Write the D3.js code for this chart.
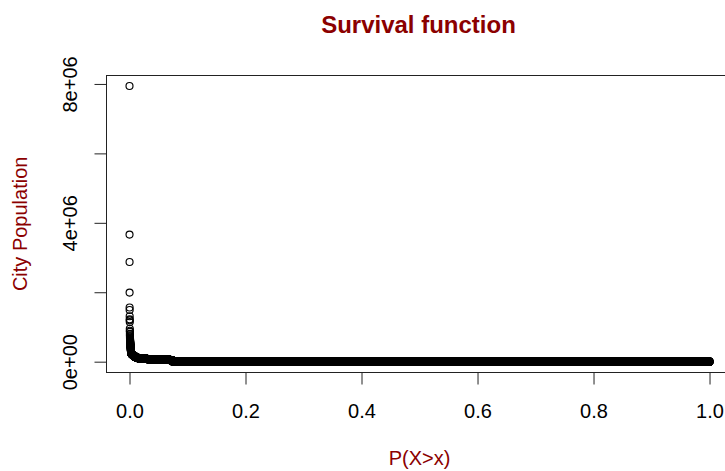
<!DOCTYPE html>
<html>
<head>
<meta charset="utf-8">
<script src="https://cdn.jsdelivr.net/npm/d3@7"></script>
<style>
  html, body { margin: 0; padding: 0; background: #fff; }
  svg { display: block; }
  text { font-family: "Liberation Sans", Arial, sans-serif; }
</style>
</head>
<body>
<script>
// ---- data ----
// Largest cities, population listed individually
const topPop = [7940000, 3660000, 2870000, 1990000, 1560000, 1490000, 1310000, 1220000,
  1190000, 1140000, 950000, 890000, 860000, 800000, 760000, 730000, 700000, 670000, 650000,
  640000, 620000, 600000, 590000, 570000, 560000,
  550000, 540000, 520000, 510000, 500000, 490000, 480000, 470000, 460000, 450000, 440000,
  430000, 420000, 410000, 400000, 390000, 380000, 370000, 360000, 350000, 340000, 330000,
  320000, 310000, 300000, 290000, 280000, 270000, 260000, 255000, 250000];
// Remaining cities, grouped by (approximate) population level and count
const tierPop = [240000, 230000, 220000, 210000, 200000, 190000, 180000, 170000, 160000,
  150000, 140000, 130000, 120000, 110000, 100000, 95000, 90000, 85000, 80000, 75000, 70000,
  65000, 60000, 55000, 50000, 45000,
  9000, 7000, 5500, 4200, 3200, 2400, 1700, 1100, 600, 250];
const tierCount = [8, 10, 10, 12, 12, 14, 14, 16, 16, 18, 20, 22, 26, 30, 40, 50, 50, 70,
  90, 110, 120, 130, 140, 140, 130, 67,
  1200, 1600, 2000, 2200, 2400, 2400, 2300, 2000, 1500, 375];
const xTicks = [0, 0.2, 0.4, 0.6, 0.8, 1.0];
const xTickLabels = ["0.0", "0.2", "0.4", "0.6", "0.8", "1.0"];
const yTicks = [0, 2e6, 4e6, 6e6, 8e6];
const yTickLabels = ["0e+00", "", "4e+06", "", "8e+06"];
const titleText = "Survival function";
const xLabel = "P(X>x)";
const yLabel = "City Population";

// ---- build sorted population list and its survival probabilities ----
const pops = topPop.slice();
tierPop.forEach((p, i) => { for (let k = 0; k < tierCount[i]; k++) pops.push(p); });
pops.sort((a, b) => b - a);
const n = pops.length;
const points = pops.map((p, i) => ({ prob: i / n, pop: p }));

// ---- layout ----
const W = 725, H = 471;
const box = { left: 106.3, right: 732.7, top: 75, bottom: 372.7 };
const darkred = "#8B0000";

const svg = d3.select("body").append("svg").attr("width", W).attr("height", H);

const xExt = d3.extent(points, d => d.prob);
const yExt = d3.extent(points, d => d.pop);
const xPad = (xExt[1] - xExt[0]) * 0.04, yPad = (yExt[1] - yExt[0]) * 0.04;
const x = d3.scaleLinear().domain([xExt[0] - xPad, xExt[1] + xPad]).range([box.left, box.right]);
const y = d3.scaleLinear().domain([yExt[0] - yPad, yExt[1] + yPad]).range([box.bottom, box.top]);

// points
svg.append("g")
  .selectAll("circle")
  .data(points)
  .join("circle")
  .attr("cx", d => x(d.prob))
  .attr("cy", d => y(d.pop))
  .attr("r", 3.5)
  .attr("fill", "none")
  .attr("stroke", "#000")
  .attr("stroke-width", 1.15);

// box
svg.append("rect")
  .attr("x", 106.5).attr("y", 75.5)
  .attr("width", box.right - 106.5).attr("height", 372.5 - 75.5)
  .attr("fill", "none").attr("stroke", "#222").attr("stroke-width", 1);

// x axis
const xAxis = d3.axisBottom(x).tickValues(xTicks).tickSize(12)
  .tickFormat((d, i) => xTickLabels[i]);
const gx = svg.append("g").attr("transform", "translate(0,372.5)").call(xAxis);
gx.select(".domain").remove();
gx.selectAll(".tick line").attr("stroke", "#222");
gx.selectAll(".tick text").attr("font-size", 20).attr("fill", "#000")
  .attr("font-family", "Liberation Sans, Arial, sans-serif")
  .attr("dy", null).attr("y", 45.5);

// y axis
const yAxis = d3.axisLeft(y).tickValues(yTicks).tickSize(12)
  .tickFormat((d, i) => yTickLabels[i]);
const gy = svg.append("g").attr("transform", "translate(106.5,0)").call(yAxis);
gy.select(".domain").remove();
gy.selectAll(".tick line").attr("stroke", "#222");
gy.selectAll(".tick text").attr("font-size", 20).attr("fill", "#000")
  .attr("font-family", "Liberation Sans, Arial, sans-serif")
  .attr("x", null).attr("dy", null)
  .attr("text-anchor", "middle")
  .attr("transform", "translate(-29.5,0) rotate(-90)");

// title and labels
const cx = (box.left + box.right) / 2;
svg.append("text").attr("x", cx - 1).attr("y", 33)
  .attr("text-anchor", "middle").attr("font-size", 24).attr("font-weight", "bold")
  .attr("fill", darkred).text(titleText);
svg.append("text").attr("x", cx).attr("y", 465)
  .attr("text-anchor", "middle").attr("font-size", 20)
  .attr("fill", darkred).text(xLabel);
svg.append("text")
  .attr("transform", `translate(27,${(box.top + box.bottom) / 2}) rotate(-90)`)
  .attr("text-anchor", "middle").attr("font-size", 20)
  .attr("fill", darkred).text(yLabel);
</script>
</body>
</html>
